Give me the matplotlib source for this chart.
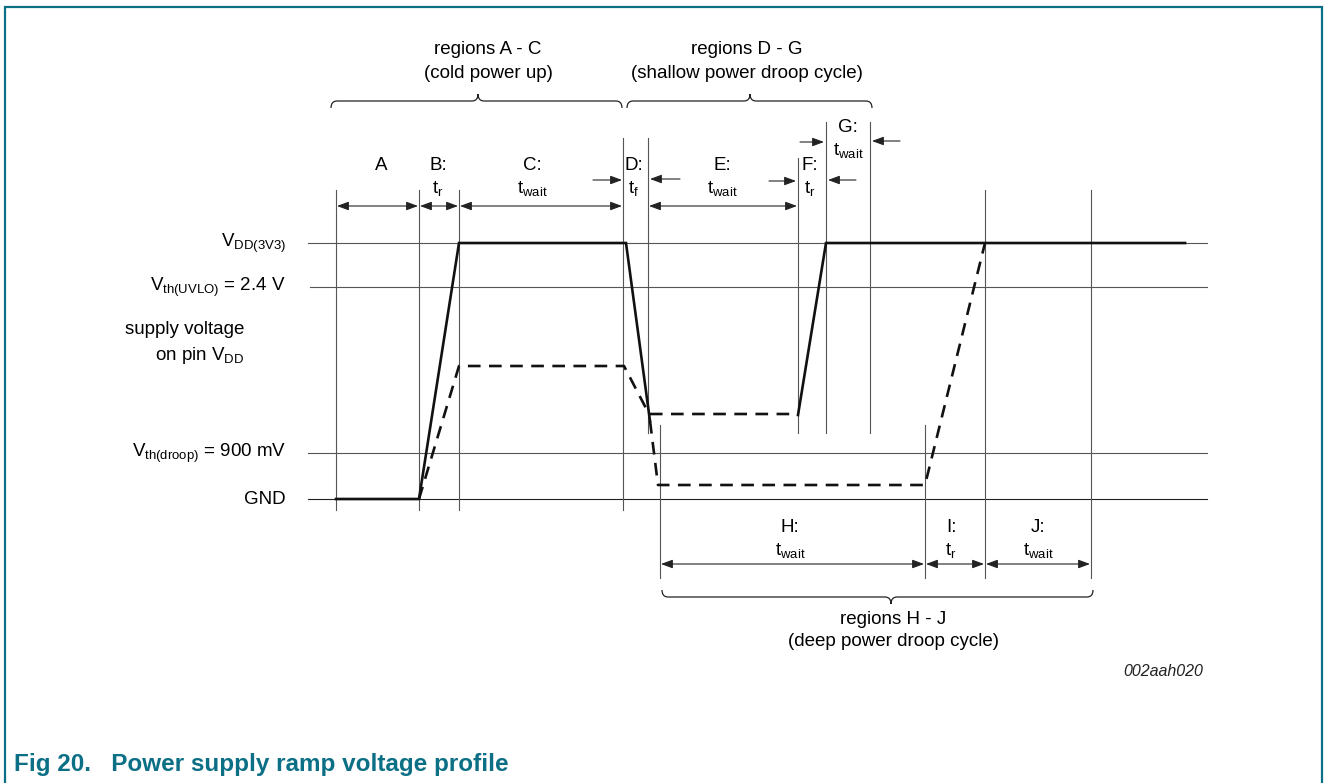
import matplotlib
matplotlib.use("Agg")
import matplotlib.pyplot as plt
from matplotlib.path import Path
from matplotlib.patches import PathPatch, FancyArrowPatch

plt.rcParams['font.family'] = ['Liberation Sans', 'DejaVu Sans']
plt.rcParams['mathtext.fontset'] = 'custom'
plt.rcParams['mathtext.rm'] = 'Liberation Sans'
plt.rcParams['mathtext.it'] = 'Liberation Sans:italic'
plt.rcParams['mathtext.bf'] = 'Liberation Sans:bold'

# ---------------- schematic data (drawing units: time -> x, level -> y) -------------
level_names = [r'$\mathrm{V_{DD(3V3)}}$', r'$\mathrm{V_{th(UVLO)}}$ = 2.4 V',
               r'$\mathrm{V_{th(droop)}}$ = 900 mV', 'GND']
level_y = [243, 287, 453, 499]
level_t_start = [308, 310, 308, 308]
level_t_end = 1207

# supply waveform (solid) and alternative waveforms (dashed)
solid1_t = [336, 419, 459, 626, 650]
solid1_v = [499, 499, 243, 243, 421]
solid2_t = [798, 826, 1185]
solid2_v = [415, 243, 243]
shallow_t = [419, 459, 624, 649, 798]
shallow_v = [499, 366, 366, 414, 414]
deep_t = [650, 658, 925, 985]
deep_v = [421, 485, 485, 243]

# region boundaries: time, top, bottom
bound_t = [336, 419, 459, 623, 648, 798, 826, 870, 660, 925, 985, 1091]
bound_top = [190, 190, 190, 138, 138, 158, 122, 122, 425, 425, 190, 190]
bound_bot = [510, 510, 510, 510, 433, 433, 433, 433, 578, 578, 578, 578]

# interval arrows (double headed)
span_from = [336, 419, 459, 648, 660, 925, 985]
span_to = [419, 459, 623, 798, 925, 985, 1091]
span_y = [206, 206, 206, 206, 564, 564, 564]

# single arrows (tail, head, y)
ptr_tail = [593, 680, 769, 856, 800, 900]
ptr_head = [622, 650, 796, 828, 824, 872]
ptr_y = [180, 179, 181, 180, 142, 141]

# region labels
reg_names = ['A', 'B:', 'C:', 'D:', 'E:', 'F:', 'G:', 'H:', 'I:', 'J:']
reg_params = ['', r'$\mathrm{t_r}$', r'$\mathrm{t_{wait}}$', r'$\mathrm{t_f}$',
              r'$\mathrm{t_{wait}}$', r'$\mathrm{t_r}$', r'$\mathrm{t_{wait}}$',
              r'$\mathrm{t_{wait}}$', r'$\mathrm{t_r}$', r'$\mathrm{t_{wait}}$']
reg_x = [381, 438, 532, 634, 722, 810, 848, 790, 951, 1038]
reg_y = [166, 166, 166, 166, 166, 166, 127, 527, 527, 527]

# grouping braces
brace_line1 = ['regions A - C', 'regions D - G', 'regions H - J']
brace_line2 = ['(cold power up)', '(shallow power droop cycle)', '(deep power droop cycle)']
brace_from = [331, 627, 662]
brace_to = [622, 872, 1093]
brace_tip = [478, 750, 891]
brace_text_x = [488, 747, 893]

# ---------------------------------------------------------------------------------
fig = plt.figure(figsize=(13.28, 7.83), dpi=100)
ax = fig.add_axes([0, 0, 1, 1])
ax.set_xlim(0, 1328)
ax.set_ylim(783, 0)
ax.axis('off')

teal = '#0b6f86'
grey = '#555555'
FS = 13.5

# frame
ax.plot([5, 5, 1322, 1322], [783, 7, 7, 783], color=teal, lw=1.6, solid_joinstyle='miter')

# level lines and labels
for name, y, x0 in zip(level_names, level_y, level_t_start):
    ax.plot([x0, level_t_end], [y, y], color=grey if name != 'GND' else '#222222', lw=0.8)
    ax.text(286, y, name, ha='right', va='center', fontsize=FS)
ax.text(244, 330, 'supply voltage', ha='right', va='center', fontsize=FS)
ax.text(244, 355, r'on pin $\mathrm{V_{DD}}$', ha='right', va='center', fontsize=FS)

# boundaries
for t, y0, y1 in zip(bound_t, bound_top, bound_bot):
    ax.plot([t, t], [y0, y1], color=grey, lw=0.8)

# waveforms
lw_w = 1.9
ax.plot(solid1_t, solid1_v, color='#111111', lw=lw_w, solid_joinstyle='miter')
ax.plot(solid2_t, solid2_v, color='#111111', lw=lw_w, solid_joinstyle='miter')
for tt, vv in ((shallow_t, shallow_v), (deep_t, deep_v)):
    ax.plot(tt, vv, color='#111111', lw=lw_w, dashes=(4.8, 3.2))

# arrows
for a, b, y in zip(span_from, span_to, span_y):
    ax.add_patch(FancyArrowPatch((a + 1, y), (b - 1, y), arrowstyle='<|-|>,head_length=7,head_width=2.6',
                                 mutation_scale=1, lw=0.8, color='#222222', shrinkA=0, shrinkB=0))
for a, b, y in zip(ptr_tail, ptr_head, ptr_y):
    ax.add_patch(FancyArrowPatch((a, y), (b, y), arrowstyle='-|>,head_length=7,head_width=2.6',
                                 mutation_scale=1, lw=0.8, color='#222222', shrinkA=0, shrinkB=0))

# region labels
for n, p, x, y in zip(reg_names, reg_params, reg_x, reg_y):
    ax.text(x, y, n, ha='center', va='center', fontsize=FS)
    if p:
        ax.text(x, y + 23, p, ha='center', va='center', fontsize=FS)


def brace(x0, x1, xt, y_end, y_arm, y_tip):
    r = 6
    verts = [(x0, y_end), (x0, y_arm), (x0 + r, y_arm),
             (xt - r, y_arm), (xt, y_arm), (xt, y_tip),
             (xt, y_arm), (xt + r, y_arm),
             (x1 - r, y_arm), (x1, y_arm), (x1, y_end)]
    codes = [Path.MOVETO, Path.CURVE3, Path.CURVE3,
             Path.LINETO, Path.CURVE3, Path.CURVE3,
             Path.CURVE3, Path.CURVE3,
             Path.LINETO, Path.CURVE3, Path.CURVE3]
    ax.add_patch(PathPatch(Path(verts, codes), fill=False, lw=0.9, edgecolor='#222222'))


for i, (l1, l2, a, b, t, tx) in enumerate(zip(brace_line1, brace_line2, brace_from, brace_to,
                                                brace_tip, brace_text_x)):
    if i < 2:
        brace(a, b, t, 108, 101, 94)
        ax.text(tx, 50, l1, ha='center', va='center', fontsize=FS)
        ax.text(tx, 73, l2, ha='center', va='center', fontsize=FS)
    else:
        brace(a, b, t, 590, 597, 604)
        ax.text(tx, 619, l1, ha='center', va='center', fontsize=FS)
        ax.text(tx, 642, l2, ha='center', va='center', fontsize=FS)

ax.text(1163, 671, '002aah020', ha='center', va='center', fontsize=11.5, style='italic', color='#222222')
ax.text(14, 765, 'Fig 20.   Power supply ramp voltage profile', ha='left', va='center',
        fontsize=17.5, fontweight='bold', color=teal)

fig.savefig('out.png', dpi=100)
